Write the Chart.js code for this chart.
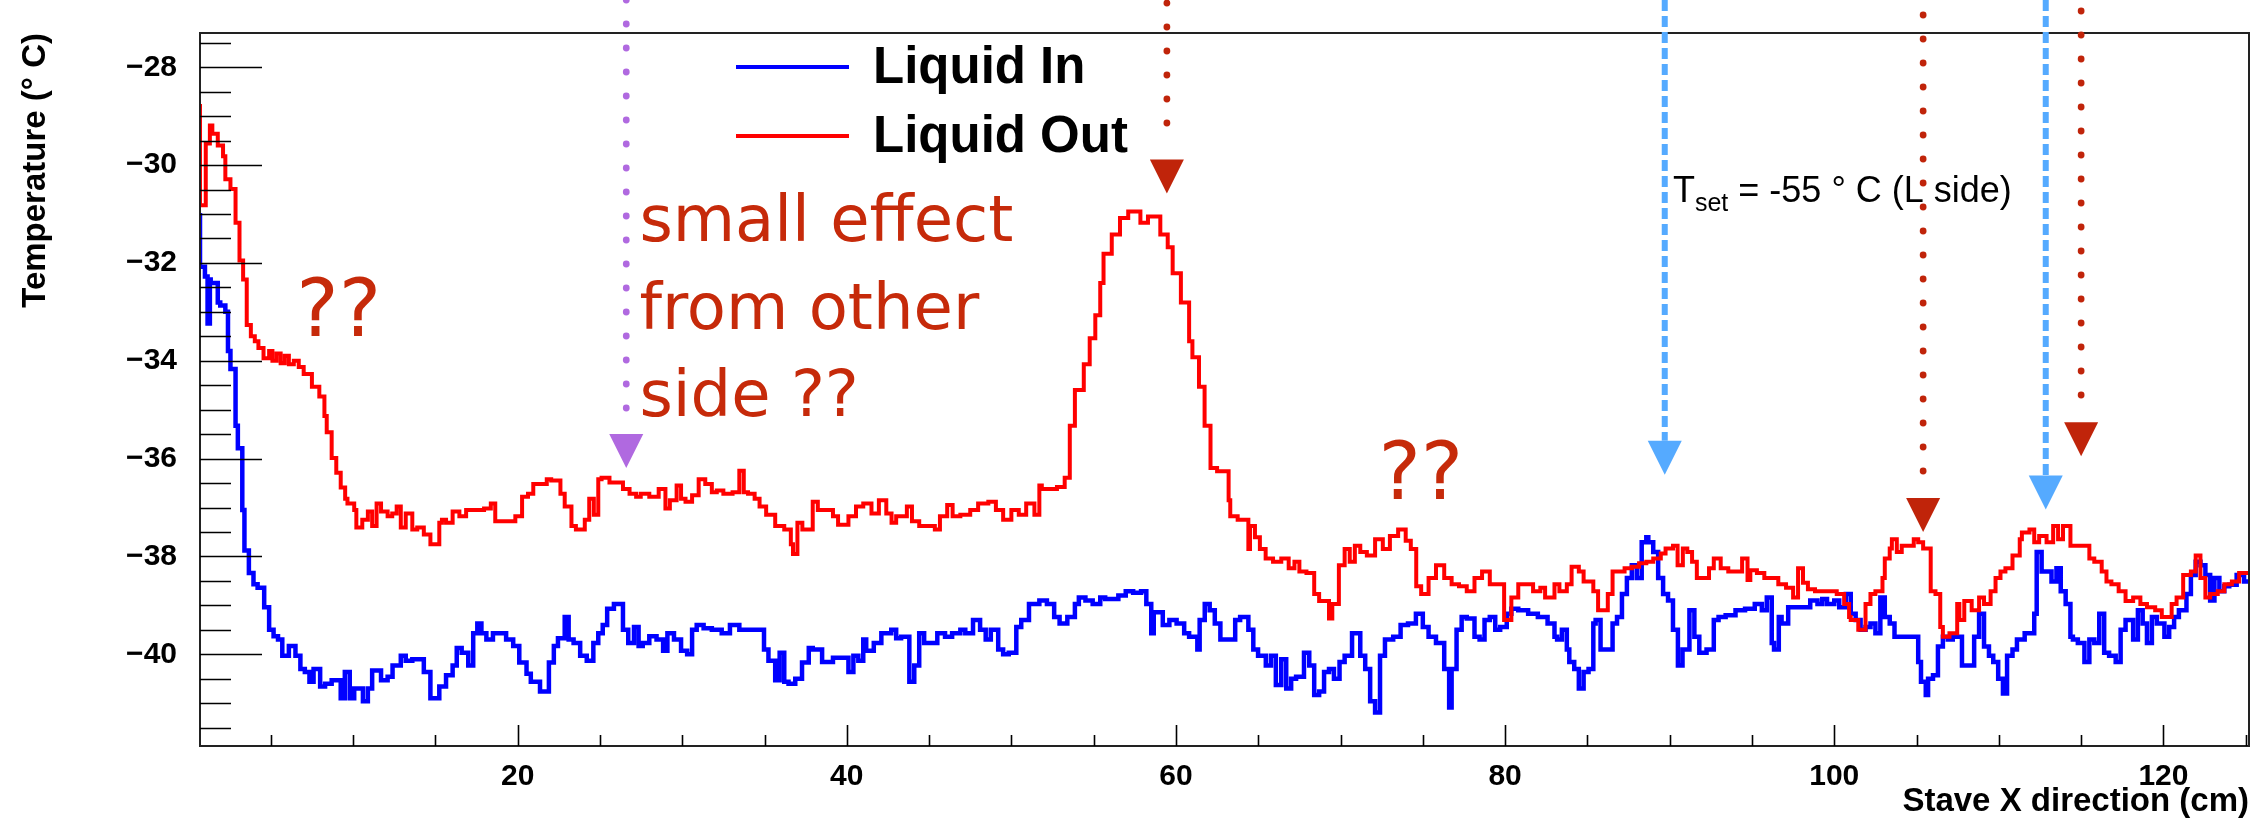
<!DOCTYPE html>
<html>
<head>
<meta charset="utf-8">
<script src="https://cdn.jsdelivr.net/npm/chart.js@4.4.0/dist/chart.umd.min.js"></script>
<style>
  html, body { margin: 0; padding: 0; background: #fff; }
  canvas { display: block; }
</style>
</head>
<body>
<canvas id="grafico" width="2256" height="824"></canvas>
<script>
// [stave X (cm), temperature (deg C)] at each step of the histogram
var liquidIn = [
  [0.7,-30.98],[1.0,-32.08],[1.16,-32.28],[1.3,-33.24],[1.35,-32.34],[1.78,-32.41],[1.93,-32.81],
  [2.24,-32.87],[2.4,-33.0],[2.55,-33.8],[2.86,-34.17],[3.0,-35.33],[3.27,-35.79],[3.4,-37.05],
  [3.67,-37.88],[3.95,-38.34],[4.2,-38.57],[4.6,-38.64],[4.9,-39.04],[5.17,-39.5],[5.44,-39.63],
  [5.7,-39.7],[6.1,-40.03],[6.5,-39.83],[6.8,-40.03],[7.07,-40.3],[7.35,-40.36],[7.6,-40.56],
  [8.0,-40.3],[8.3,-40.66],[8.7,-40.6],[9.25,-40.53],[9.5,-40.9],[9.8,-40.36],[10.07,-40.9],
  [10.6,-40.7],[10.9,-40.96],[11.16,-40.7],[11.7,-40.33],[12.1,-40.53],[12.4,-40.46],[12.9,-40.23],
  [13.2,-40.03],[13.6,-40.13],[14.3,-40.1],[14.7,-40.36],[15.24,-40.9],[15.65,-40.66],[16.05,-40.43],
  [16.3,-40.23],[16.6,-39.87],[17.0,-39.97],[17.3,-40.23],[17.55,-39.57],[17.8,-39.37],[18.1,-39.57],
  [18.5,-39.7],[19.3,-39.57],[19.73,-39.7],[20.1,-39.83],[20.54,-40.17],[20.8,-40.4],[21.36,-40.56],
  [21.9,-40.76],[22.2,-40.17],[22.45,-39.83],[22.86,-39.67],[23.1,-39.24],[23.4,-39.7],[23.8,-39.77],
  [24.2,-40.03],[24.6,-40.13],[24.9,-39.77],[25.17,-39.57],[25.44,-39.4],[25.85,-39.07],[26.4,-38.97],
  [26.72,-39.5],[27.07,-39.77],[27.35,-39.44],[27.6,-39.83],[28.0,-39.77],[28.44,-39.63],[28.84,-39.7],
  [29.1,-39.93],[29.5,-39.57],[29.93,-39.7],[30.3,-39.93],[30.6,-40.0],[30.88,-39.5],[31.3,-39.4],
  [31.8,-39.47],[32.4,-39.5],[32.9,-39.57],[33.47,-39.4],[34.97,-39.5],[35.24,-39.9],[35.65,-40.13],
  [35.92,-40.53],[36.2,-39.97],[36.46,-40.56],[36.87,-40.6],[37.28,-40.5],[37.69,-40.17],[37.93,-39.87],
  [38.5,-39.9],[39.16,-40.16],[40.1,-40.07],[40.4,-40.36],[40.7,-40.03],[41.0,-40.13],[41.18,-39.7],
  [41.64,-39.93],[42.1,-39.77],[42.7,-39.57],[43.0,-39.5],[43.3,-39.67],[43.8,-39.64],[44.1,-40.56],
  [44.4,-40.23],[44.7,-39.57],[45.5,-39.77],[45.97,-39.57],[46.4,-39.64],[46.9,-39.57],[47.2,-39.5],
  [47.67,-39.57],[48.1,-39.3],[48.44,-39.5],[48.75,-39.7],[49.2,-39.5],[49.5,-39.9],[49.84,-40.0],
  [50.3,-39.97],[50.6,-39.44],[51.07,-39.3],[51.7,-38.97],[52.16,-38.9],[52.6,-38.97],[52.93,-39.24],
  [53.4,-39.37],[53.86,-39.24],[54.1,-38.97],[54.5,-38.84],[54.94,-38.9],[55.4,-38.97],[55.7,-38.84],
  [56.5,-38.87],[56.95,-38.8],[57.4,-38.71],[57.88,-38.74],[58.2,-38.71],[58.5,-38.97],[58.65,-39.57],
  [59.2,-39.14],[59.6,-39.4],[60.04,-39.3],[60.5,-39.37],[60.8,-39.57],[61.3,-39.64],[61.44,-39.9],
  [61.75,-39.3],[62.05,-38.97],[62.36,-39.1],[62.7,-39.37],[63.6,-39.7],[63.9,-39.3],[64.4,-39.24],
  [64.7,-39.5],[64.99,-39.9],[65.46,-40.03],[65.77,-40.23],[66.07,-40.03],[66.4,-40.63],[66.7,-40.1],
  [67.0,-40.7],[67.3,-40.5],[67.78,-40.46],[68.1,-39.97],[68.4,-40.23],[68.7,-40.83],[69.0,-40.76],
  [69.3,-40.36],[69.6,-40.3],[69.94,-40.5],[70.25,-40.16],[70.7,-40.03],[71.2,-39.57],[71.5,-40.03],
  [71.8,-40.3],[72.1,-40.96],[72.4,-41.19],[72.7,-40.03],[73.2,-39.7],[73.65,-39.64],[74.1,-39.4],
  [74.58,-39.37],[75.0,-39.17],[75.35,-39.44],[75.8,-39.64],[76.3,-39.77],[76.6,-40.3],[76.75,-41.09],
  [77.05,-40.3],[77.36,-39.5],[77.67,-39.24],[78.14,-39.27],[78.45,-39.64],[78.75,-39.7],[79.07,-39.3],
  [79.4,-39.24],[79.7,-39.5],[80.1,-39.44],[80.38,-39.17],[80.8,-39.07],[81.4,-39.1],[81.99,-39.17],
  [82.58,-39.24],[83.0,-39.37],[83.16,-39.64],[83.45,-39.7],[83.75,-39.5],[83.9,-39.9],[84.2,-40.16],
  [84.48,-40.3],[84.77,-40.7],[85.07,-40.36],[85.36,-40.3],[85.5,-39.37],[85.8,-39.3],[86.53,-39.9],
  [86.8,-39.37],[87.1,-39.24],[87.4,-38.77],[87.7,-38.44],[88.0,-38.18],[88.3,-38.44],[88.58,-37.71],
  [88.7,-37.61],[89.0,-37.71],[89.3,-37.91],[89.6,-38.44],[89.9,-38.77],[90.2,-38.9],[90.5,-39.5],
  [90.78,-40.23],[91.2,-39.9],[91.5,-39.1],[91.8,-39.64],[92.24,-39.97],[92.68,-39.9],[92.97,-39.3],
  [93.4,-39.24],[94.0,-39.2],[94.58,-39.1],[95.17,-39.07],[95.6,-38.97],[95.9,-39.1],[96.2,-38.84],
  [96.34,-39.77],[96.63,-39.9],[96.8,-39.24],[97.2,-39.37],[98.54,-39.04],[98.98,-38.9],[99.27,-38.97],
  [99.56,-38.87],[100.0,-38.97],[100.3,-38.9],[100.7,-39.04],[101.0,-38.77],[101.3,-39.17],[101.6,-39.3],
  [101.9,-39.5],[102.2,-39.44],[102.5,-39.37],[102.8,-39.57],[103.07,-38.84],[103.37,-39.24],[103.66,-39.37],
  [103.95,-39.64],[105.1,-39.64],[105.27,-40.16],[105.56,-40.56],[105.7,-40.83],[106.0,-40.5],[106.3,-40.43],
  [106.6,-39.84],[106.9,-39.64],[107.2,-39.7],[107.76,-39.64],[108.05,-40.23],[108.5,-40.23],[108.8,-39.64],
  [109.1,-39.17],[109.4,-39.84],[109.66,-40.03],[109.96,-40.16],[110.25,-40.5],[110.5,-40.8],[110.83,-40.03],
  [111.1,-39.9],[111.57,-39.7],[112.15,-39.57],[112.3,-39.17],[112.6,-37.91],[113.2,-38.31],[113.5,-38.51],
  [113.76,-38.24],[114.06,-38.71],[114.35,-38.97],[114.5,-39.64],[114.8,-39.7],[115.2,-39.77],[115.5,-40.16],
  [115.8,-39.7],[116.1,-39.77],[116.4,-39.17],[116.7,-39.97],[117.1,-40.03],[117.4,-40.16],[117.7,-39.5],
  [118.16,-39.3],[118.45,-39.7],[118.74,-39.1],[119.0,-39.37],[119.3,-39.77],[119.6,-39.24],[120.06,-39.37],
  [120.35,-39.64],[120.65,-39.44],[120.94,-39.24],[121.4,-39.1],[121.67,-38.77],[121.96,-38.38],[122.25,-38.11],
  [122.55,-38.18],[122.84,-38.38],[123.1,-38.9],[123.4,-38.44],[123.7,-38.71],[124.0,-38.61],[124.45,-38.58],
  [124.9,-38.38],[125.2,-38.51]
];

var liquidOut = [
  [0.7,-28.75],[1.05,-30.82],[1.3,-29.56],[1.45,-29.19],[1.78,-29.36],[2.1,-29.6],[2.24,-29.82],
  [2.55,-30.29],[2.86,-30.49],[3.1,-31.18],[3.32,-31.95],[3.54,-32.34],[3.79,-33.27],[4.03,-33.5],
  [4.25,-33.6],[4.56,-33.74],[4.9,-33.95],[5.1,-33.8],[5.35,-34.0],[5.6,-33.85],[5.85,-34.05],
  [6.1,-33.9],[6.4,-34.07],[6.7,-34.0],[7.0,-34.13],[7.5,-34.27],[7.95,-34.53],[8.26,-34.73],
  [8.4,-35.13],[8.7,-35.46],[8.98,-35.99],[9.25,-36.29],[9.52,-36.59],[9.66,-36.82],[10.07,-36.92],
  [10.2,-37.05],[10.56,-37.41],[10.9,-37.25],[11.16,-37.08],[11.43,-37.38],[11.7,-36.92],[12.1,-37.08],
  [12.38,-37.18],[12.65,-37.12],[12.9,-36.98],[13.2,-37.41],[13.6,-37.12],[13.9,-37.45],[14.3,-37.41],
  [14.7,-37.55],[15.24,-37.75],[15.4,-37.31],[15.65,-37.25],[16.05,-37.31],[16.46,-37.08],[16.87,-37.18],
  [17.96,-37.05],[18.37,-37.02],[18.64,-36.92],[19.86,-37.28],[20.27,-37.18],[20.63,-36.78],[20.95,-36.72],
  [21.77,-36.52],[22.04,-36.42],[22.6,-36.45],[22.86,-36.72],[23.27,-36.98],[23.54,-37.38],[24.08,-37.45],
  [24.35,-37.25],[24.63,-36.82],[24.9,-37.15],[25.1,-36.42],[25.58,-36.39],[26.4,-36.49],[26.8,-36.62],
  [27.2,-36.72],[27.48,-36.78],[28.0,-36.72],[28.57,-36.78],[28.98,-36.62],[29.25,-37.02],[29.66,-36.85],
  [29.93,-36.55],[30.2,-36.82],[30.6,-36.88],[31.0,-36.75],[31.4,-36.42],[31.8,-36.52],[32.1,-36.69],
  [32.5,-36.65],[33.06,-36.72],[33.47,-36.69],[33.74,-36.25],[34.0,-36.69],[34.4,-36.72],[34.7,-36.82],
  [35.1,-36.98],[35.65,-37.15],[36.2,-37.38],[36.6,-37.45],[36.73,-37.75],[37.0,-37.95],[37.3,-37.31],
  [37.93,-37.45],[38.24,-36.88],[39.16,-37.05],[39.47,-37.18],[40.1,-37.35],[40.56,-37.18],[41.0,-36.98],
  [41.5,-36.92],[41.95,-37.12],[42.4,-36.85],[42.72,-37.12],[43.0,-37.31],[43.65,-37.18],[43.96,-36.98],
  [44.4,-37.28],[45.35,-37.38],[45.66,-37.45],[46.1,-37.18],[46.43,-36.95],[46.9,-37.18],[47.5,-37.15],
  [47.98,-37.05],[48.6,-36.92],[49.06,-36.88],[49.5,-37.05],[50.0,-37.25],[50.45,-37.05],[50.9,-37.15],
  [51.4,-36.92],[51.7,-37.15],[51.85,-36.55],[52.77,-36.62],[53.24,-36.58],[53.55,-36.39],[53.86,-35.33],
  [54.4,-34.6],[54.76,-34.07],[55.1,-33.54],[55.4,-33.07],[55.6,-32.41],[56.1,-31.81],[56.6,-31.42],
  [57.1,-31.08],[57.84,-30.95],[58.3,-31.18],[59.05,-31.05],[59.5,-31.42],[59.8,-31.68],[60.3,-32.21],
  [60.8,-32.81],[61.0,-33.6],[61.4,-33.93],[61.74,-34.53],[62.1,-35.33],[62.5,-36.19],[63.2,-36.26],
  [63.3,-36.85],[63.75,-37.18],[64.4,-37.25],[64.5,-37.85],[64.8,-37.38],[65.1,-37.61],[65.45,-37.85],
  [65.9,-38.04],[66.4,-38.11],[66.85,-38.04],[67.2,-38.24],[67.5,-38.11],[67.93,-38.31],[68.4,-38.34],
  [68.7,-38.77],[69.3,-38.91],[69.5,-39.27],[69.9,-38.97],[70.25,-38.18],[70.56,-37.85],[70.87,-38.11],
  [71.2,-37.78],[71.6,-37.91],[72.1,-37.98],[72.57,-37.65],[73.0,-37.85],[73.5,-37.58],[73.96,-37.45],
  [74.27,-37.68],[74.6,-37.85],[74.9,-38.61],[75.35,-38.77],[75.8,-38.44],[76.3,-38.18],[76.75,-38.44],
  [77.2,-38.57],[77.67,-38.61],[78.14,-38.71],[78.6,-38.44],[79.07,-38.31],[79.94,-38.57],[80.38,-39.3],
  [80.8,-38.84],[81.7,-38.57],[82.14,-38.71],[82.43,-38.64],[83.0,-38.84],[83.3,-38.57],[83.75,-38.71],
  [84.04,-38.57],[84.48,-38.21],[84.77,-38.31],[85.36,-38.51],[85.65,-38.71],[86.24,-39.1],[86.53,-38.77],
  [87.26,-38.31],[87.7,-38.24],[88.14,-38.21],[88.58,-38.14],[89.0,-38.11],[89.46,-38.04],[89.75,-37.94],
  [90.2,-37.84],[90.48,-37.78],[90.8,-38.18],[91.07,-37.84],[91.36,-37.91],[91.65,-38.11],[92.39,-38.44],
  [92.68,-38.24],[93.1,-38.04],[93.56,-38.24],[94.4,-38.31],[94.73,-38.04],[94.9,-38.48],[95.3,-38.28],
  [95.75,-38.34],[96.6,-38.44],[97.07,-38.57],[97.5,-38.64],[97.8,-38.84],[98.1,-38.24],[98.4,-38.54],
  [98.83,-38.67],[100.15,-38.71],[100.6,-38.77],[100.9,-38.97],[101.0,-39.24],[101.46,-39.3],[101.9,-39.5],
  [102.2,-38.97],[102.5,-38.77],[102.93,-38.71],[103.07,-38.44],[103.37,-38.04],[103.5,-37.84],[103.8,-37.65],
  [104.1,-37.91],[104.83,-37.78],[105.1,-37.65],[105.4,-37.71],[105.86,-37.84],[106.15,-38.71],[106.44,-38.77],
  [106.6,-39.44],[107.0,-39.64],[107.47,-39.57],[107.6,-38.97],[107.9,-39.3],[108.35,-38.91],[108.8,-39.1],
  [109.1,-38.84],[109.5,-38.97],[109.8,-38.71],[110.1,-38.44],[110.4,-38.31],[110.83,-38.24],[111.27,-37.98],
  [111.4,-37.65],[111.86,-37.51],[112.15,-37.45],[112.45,-37.71],[112.9,-37.58],[113.3,-37.71],[113.6,-37.38],
  [113.9,-37.65],[114.35,-37.38],[114.64,-37.78],[115.5,-37.78],[115.8,-38.04],[116.25,-38.11],[116.54,-38.31],
  [116.84,-38.51],[117.28,-38.57],[117.7,-38.71],[118.16,-38.91],[118.6,-38.84],[119.0,-38.97],[119.5,-39.04],
  [119.9,-39.1],[120.5,-39.24],[120.8,-38.97],[121.2,-38.84],[121.67,-38.38],[121.96,-38.31],[122.25,-37.98],
  [122.55,-38.44],[122.84,-38.84],[123.3,-38.77],[123.7,-38.71],[124.16,-38.57],[124.6,-38.51],[125.2,-38.34]
];

var xTicks = [20, 40, 60, 80, 100, 120];
var yTicks = [-40, -38, -36, -34, -32, -30, -28];

// arrows pointing at features (x in cm, tip in deg C)
var markers = [
  { x: 26.6,   tip: -36.19, color: '#b069e0', kind: 'dots', top: 0 },
  { x: 59.45,  tip: -30.58, color: '#c0240a', kind: 'dots', top: 3 },
  { x: 89.7,   tip: -36.33, color: '#55aaff', kind: 'dash', top: 0 },
  { x: 105.4,  tip: -37.5,  color: '#c0240a', kind: 'dots', top: 15 },
  { x: 112.85, tip: -37.04, color: '#55aaff', kind: 'dash', top: 0 },
  { x: 115.0,  tip: -35.95, color: '#c0240a', kind: 'dots', top: 11 }
];

var notes = [
  { text: 'small effect', x: 27.4, y: -31.55, size: 64 },
  { text: 'from other',   x: 27.4, y: -33.36, size: 64 },
  { text: 'side ??',      x: 27.4, y: -35.13, size: 64 },
  { text: '??',           x: 6.55, y: -33.5,  size: 80 },
  { text: '??',           x: 72.3, y: -36.82, size: 80 }
];

var helv = '"Liberation Sans", Arial, Helvetica, sans-serif';

var decor = {
  id: 'decor',
  beforeDraw: function (chart) {
    var ctx = chart.ctx;
    ctx.save();
    ctx.fillStyle = '#fff';
    ctx.fillRect(0, 0, chart.width, chart.height);
    ctx.restore();
  },
  afterDatasetsDraw: function (chart) {
    var ctx = chart.ctx, a = chart.chartArea;
    var xs = chart.scales.x, ys = chart.scales.y;
    ctx.save();

    // frame
    ctx.strokeStyle = '#222';
    ctx.lineWidth = 2;
    ctx.strokeRect(a.left, a.top, a.right - a.left, a.bottom - a.top);

    // inward ticks, ROOT style
    ctx.strokeStyle = '#000';
    ctx.lineWidth = 1.6;
    ctx.beginPath();
    for (var v = -41.5; v <= -27.5; v += 0.5) {
      var py = Math.round(ys.getPixelForValue(v)) + 0.5;
      var len = Math.abs(v % 2) < 1e-6 ? 62 : 31;
      ctx.moveTo(a.left, py);
      ctx.lineTo(a.left + len, py);
    }
    for (var u = 5; u <= 125; u += 5) {
      var px = Math.round(xs.getPixelForValue(u)) + 0.5;
      var l2 = u % 20 === 0 ? 21 : 11;
      ctx.moveTo(px, a.bottom);
      ctx.lineTo(px, a.bottom - l2);
    }
    ctx.stroke();

    // arrows
    markers.forEach(function (m) {
      var x = xs.getPixelForValue(m.x);
      var tipY = ys.getPixelForValue(m.tip);
      var headTop = tipY - 34;
      ctx.fillStyle = m.color;
      ctx.strokeStyle = m.color;
      if (m.kind === 'dots') {
        for (var y = m.top; y <= headTop - 14; y += 24) {
          ctx.beginPath();
          ctx.arc(x, y, 3.4, 0, Math.PI * 2);
          ctx.fill();
        }
      } else {
        ctx.lineWidth = 6;
        ctx.setLineDash([11, 5]);
        ctx.beginPath();
        ctx.moveTo(x, m.top);
        ctx.lineTo(x, headTop);
        ctx.stroke();
        ctx.setLineDash([]);
      }
      ctx.beginPath();
      ctx.moveTo(x - 17, headTop);
      ctx.lineTo(x + 17, headTop);
      ctx.lineTo(x, tipY);
      ctx.closePath();
      ctx.fill();
    });

    // hand-written notes
    ctx.fillStyle = '#c62a0a';
    ctx.textAlign = 'left';
    ctx.textBaseline = 'alphabetic';
    notes.forEach(function (n) {
      ctx.font = n.size + 'px "DejaVu Sans", sans-serif';
      ctx.fillText(n.text, xs.getPixelForValue(n.x), ys.getPixelForValue(n.y));
    });

    // T_set label
    var tx = xs.getPixelForValue(90.2), ty = ys.getPixelForValue(-30.76);
    ctx.fillStyle = '#000';
    ctx.font = '36px ' + helv;
    ctx.fillText('T', tx, ty);
    tx += ctx.measureText('T').width;
    ctx.font = '25px ' + helv;
    ctx.fillText('set', tx, ty + 9);
    tx += ctx.measureText('set').width;
    ctx.font = '36px ' + helv;
    ctx.fillText(' = -55 \u00b0 C (L side)', tx, ty);

    // legend
    var items = chart.data.datasets;
    ctx.font = 'bold 51px ' + helv;
    ctx.textBaseline = 'middle';
    items.forEach(function (ds, i) {
      var ly = a.top + 34 + i * 69;
      ctx.strokeStyle = ds.borderColor;
      ctx.lineWidth = 4;
      ctx.beginPath();
      ctx.moveTo(736, ly);
      ctx.lineTo(849, ly);
      ctx.stroke();
      ctx.fillStyle = '#000';
      ctx.fillText(ds.label, 873, ly + 2);
    });

    ctx.restore();
  }
};

function toPoints(rows) {
  return rows.map(function (r) { return { x: r[0], y: r[1] }; });
}

var ctx = document.getElementById('grafico').getContext('2d');
var chart = new Chart(ctx, {
  type: 'line',
  data: {
    datasets: [{
      label: 'Liquid In',
      data: toPoints(liquidIn),
      borderColor: '#0000ff',
      borderWidth: 4.5,
      stepped: 'after',
      pointRadius: 0,
      fill: false,
      order: 1
    }, {
      label: 'Liquid Out',
      data: toPoints(liquidOut),
      borderColor: '#ff0000',
      borderWidth: 4,
      stepped: 'after',
      pointRadius: 0,
      fill: false,
      order: 0
    }]
  },
  options: {
    responsive: false,
    devicePixelRatio: 1,
    animation: false,
    layout: { padding: { left: 0, top: 13, right: 7, bottom: 0 } },
    plugins: {
      legend: { display: false },
      tooltip: { enabled: false }
    },
    scales: {
      x: {
        type: 'linear',
        min: 0.7,
        max: 125.2,
        afterBuildTicks: function (s) { s.ticks = xTicks.map(function (v) { return { value: v }; }); },
        afterFit: function (s) { s.height = 78; },
        grid: { display: false },
        border: { display: false },
        ticks: {
          padding: 5,
          color: '#000',
          maxRotation: 0,
          font: { family: helv, size: 30, weight: 'bold' }
        },
        title: {
          display: true,
          text: 'Stave X direction (cm)',
          align: 'end',
          color: '#000',
          padding: { top: 0, bottom: 2 },
          font: { family: helv, size: 33, weight: 'bold' }
        }
      },
      y: {
        min: -41.875,
        max: -27.3,
        afterBuildTicks: function (s) { s.ticks = yTicks.map(function (v) { return { value: v }; }); },
        afterFit: function (s) { s.width = 200; },
        grid: { display: false },
        border: { display: false },
        ticks: {
          padding: 15,
          color: '#000',
          font: { family: helv, size: 30, weight: 'bold' },
          callback: function (v) { return '\u2212' + Math.abs(v); }
        },
        title: {
          display: true,
          text: 'Temperature (\u00b0 C)',
          align: 'end',
          color: '#000',
          padding: { top: 16, bottom: 0 },
          font: { family: helv, size: 33, weight: 'bold' }
        }
      }
    }
  },
  plugins: [decor]
});
</script>
</body>
</html>
